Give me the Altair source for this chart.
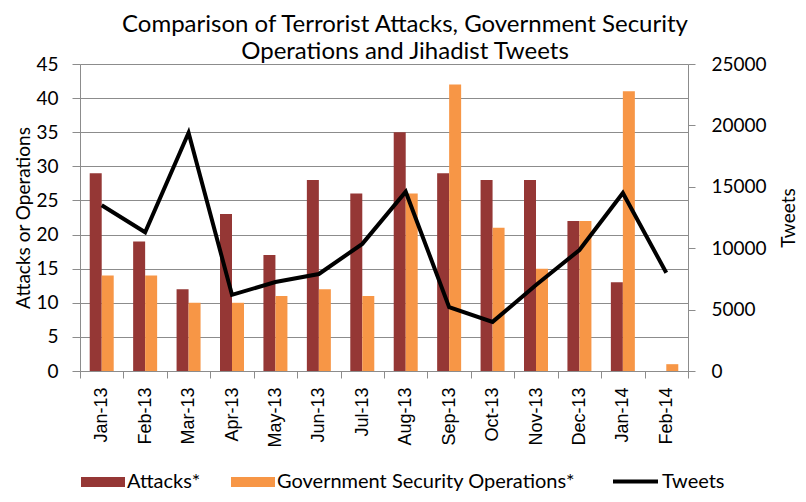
import altair as alt
import pandas as pd

months = ["Jan-13", "Feb-13", "Mar-13", "Apr-13", "May-13", "Jun-13", "Jul-13",
          "Aug-13", "Sep-13", "Oct-13", "Nov-13", "Dec-13", "Jan-14", "Feb-14"]
attacks = [29, 19, 12, 23, 17, 28, 26, 35, 29, 28, 28, 22, 13, 0]
operations = [14, 14, 10, 10, 11, 12, 11, 26, 42, 21, 15, 22, 41, 1]
tweets = [13500, 11300, 19400, 6200, 7250, 7900, 10350, 14600, 5200, 4000, 7000, 9850, 14500, 8000]

S_ATT = "Attacks*"
S_OPS = "Government Security Operations*"

bars_df = pd.DataFrame({
    "month": months * 2,
    "series": [S_ATT] * len(months) + [S_OPS] * len(months),
    "value": attacks + operations,
})
line_df = pd.DataFrame({"month": months, "tweets": tweets, "series": ["Tweets"] * len(months)})

FONT = "Lato"
GRID = "#8c8c8c"
FS = 19

x_enc = alt.X("month:N", sort=months, title=None,
              scale=alt.Scale(paddingInner=0, paddingOuter=0),
              axis=alt.Axis(labelAngle=-90, labelFont="Liberation Sans", labelFontSize=18,
                            labelColor="#000", labelPadding=9, tickBand="extent",
                            tickSize=7, tickColor=GRID, domainColor=GRID, grid=False,
                            labelAlign="right", labelBaseline="middle"))

bars = alt.Chart(bars_df).mark_bar().encode(
    x=x_enc,
    xOffset=alt.XOffset("series:N", sort=[S_ATT, S_OPS],
                        scale=alt.Scale(paddingInner=0, paddingOuter=0.81)),
    y=alt.Y("value:Q", title="Attacks or Operations",
            scale=alt.Scale(domain=[0, 45], nice=False),
            axis=alt.Axis(values=list(range(0, 46, 5)), grid=True, gridColor=GRID,
                          domainColor=GRID, tickColor=GRID, tickSize=8,
                          labelFont=FONT, labelFontSize=FS, labelColor="#000",
                          labelPadding=14, titleFont=FONT, titleFontSize=FS,
                          titleFontWeight="normal", titleColor="#000", titlePadding=2)),
    color=alt.Color("series:N", sort=[S_ATT, S_OPS],
                    scale=alt.Scale(domain=[S_ATT, S_OPS], range=["#953735", "#F79646"]),
                    legend=alt.Legend(title=None, orient="none", legendX=1, legendY=396,
                                      direction="horizontal", columns=2, columnPadding=30,
                                      symbolType="M-1,-0.23L1,-0.23L1,0.23L-1,0.23Z",
                                      symbolSize=1936, symbolStrokeWidth=0,
                                      labelFont=FONT, labelFontSize=20, labelColor="#000",
                                      labelOffset=2, labelLimit=0, padding=0)),
)

line = alt.Chart(line_df).mark_line(strokeWidth=4, color="#000").encode(
    x=alt.X("month:N", sort=months),
    y=alt.Y("tweets:Q", title="Tweets",
            scale=alt.Scale(domain=[0, 25000], nice=False),
            axis=alt.Axis(orient="right", values=list(range(0, 25001, 5000)), grid=False,
                          format="d",
                          domainColor=GRID, tickColor=GRID, tickSize=7,
                          labelFont=FONT, labelFontSize=FS, labelColor="#000",
                          labelPadding=16, titleFont=FONT, titleFontSize=FS,
                          titleFontWeight="normal", titleColor="#000", titlePadding=32,
                          titleAngle=-90)),
    stroke=alt.Stroke("series:N",
                      scale=alt.Scale(domain=["Tweets"], range=["#000"]),
                      legend=alt.Legend(title=None, orient="none", legendX=531, legendY=393,
                                        symbolType="M-1,0L1,0", symbolSize=2025,
                                        symbolStrokeWidth=4,
                                        labelFont=FONT, labelFontSize=20, labelColor="#000",
                                        labelOffset=2, labelLimit=0, padding=0)),
)

chart = alt.layer(bars, line).resolve_scale(y="independent", color="independent").properties(
    width=608,
    height=307,
    autosize=alt.AutoSizeParams(type="none"),
    padding={"left": 72, "top": 56, "right": 110, "bottom": 123},
    title=alt.TitleParams(
        ["Comparison of Terrorist Attacks, Government Security", "Operations and Jihadist Tweets"],
        font=FONT, fontSize=24, fontWeight="normal", color="#000",
        anchor="middle", lineHeight=27, dx=21, offset=-9,
    ),
).configure_view(stroke=None).configure(background="#ffffff")

chart.save("out.html", embed_options={"renderer": "svg", "actions": False})
